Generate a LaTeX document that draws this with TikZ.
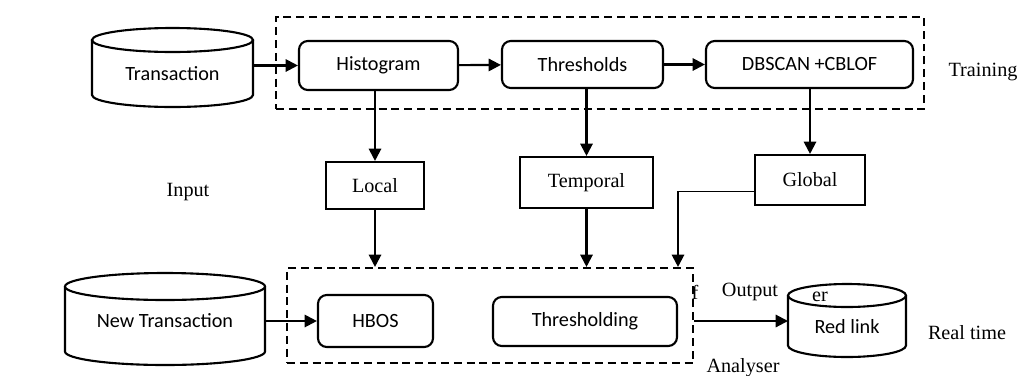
\documentclass[tikz,border=0pt]{standalone}
\usepackage{fontspec}
\setmainfont{Liberation Serif}
\newfontfamily\calfont{Carlito}
\usepackage{tikz}
\usetikzlibrary{arrows.meta}

\begin{document}
\begin{tikzpicture}[
font=\fontsize{11.5}{13}\selectfont,
proc/.style={rectangle, rounded corners=5pt, draw=black, line width=1.2pt, font=\calfont\fontsize{11.5}{13}\selectfont},
tag/.style={rectangle, draw=black, line width=1.2pt},
db/.style={rectangle, outer sep=0pt, font=\calfont\fontsize{11.5}{13}\selectfont},
group/.style={rectangle, draw=black, line width=1.2pt, dash pattern=on 4.5pt off 2.8pt},
arr/.style={-{Triangle[length=7pt,width=7pt]}, line width=1.2pt}
]
\useasboundingbox (0,0) rectangle (20.44,-7.5);
%Groups
\node[group, minimum width=12.96cm, minimum height=1.84cm] (train) at (12.00,-1.26) {};
\node[group, minimum width=8.12cm, minimum height=1.90cm]  (anlz)  at (9.80,-6.31)  {};
%Nodes
\node[db,   minimum width=3.22cm, minimum height=1.34cm] (trans) at (3.45,-1.47)   {Transaction};
\node[proc, minimum width=3.18cm, minimum height=0.98cm] (hist)  at (7.57,-1.31)   {Histogram};
\node[proc, minimum width=3.22cm, minimum height=0.94cm] (thr)   at (11.65,-1.29)  {Thresholds};
\node[proc, minimum width=4.14cm, minimum height=0.94cm] (dbs)   at (16.19,-1.29)  {DBSCAN +CBLOF};
\node[tag,  minimum width=1.96cm, minimum height=0.94cm] (local) at (7.50,-3.71)   {Local};
\node[tag,  minimum width=2.66cm, minimum height=1.02cm] (temp)  at (11.73,-3.65)  {Temporal};
\node[tag,  minimum width=2.20cm, minimum height=1.00cm] (glob)  at (16.20,-3.60)  {Global};
\node[db,   minimum width=4.00cm, minimum height=1.57cm] (newtr) at (3.30,-6.515)  {\raisebox{0.2cm}{New Transaction}};
\node[proc, minimum width=2.30cm, minimum height=1.04cm] (hbos)  at (7.51,-6.42)   {HBOS};
\node[proc, minimum width=3.68cm, minimum height=0.98cm] (thrg)  at (11.70,-6.43)  {Thresholding};
\node[db,   minimum width=2.36cm, minimum height=1.23cm] (red)   at (16.94,-6.525) {Red link};
%Cylinders
\foreach \n/\w/\r in {trans/1.61/0.24, newtr/2.00/0.27, red/1.18/0.23}{
  \draw[line width=1.2pt] (\n.north) ellipse [x radius=\w, y radius=\r];
  \draw[line width=1.2pt] (\n.north west) -- ([yshift=\r cm]\n.south west)
    arc [start angle=180, end angle=360, x radius=\w, y radius=\r] -- (\n.north east);
}
%Labels
\node (lin)   at (3.76,-3.84)  {Input};
\node (ltrn)  at (19.66,-1.44) {Training};
\node (lout)  at (15.00,-5.84) {Output};
\node (ler)   at (16.40,-5.94) {er};
\node (lf)    at (13.90,-5.84) {f};
\node (lreal) at (19.34,-6.66) {Real time};
\node[anchor=base] (lana) at (14.86,-7.44) {Analyser};
\coordinate (gb) at (13.56,-3.82);
%Lines
\draw[arr] (trans.east |- hist) -- (hist);
\draw[arr] (hist) -- (thr);
\draw[arr] (thr) -- (dbs);
\draw[arr] (hist.south -| local) -- (local);
\draw[arr] (thr.south -| temp) -- (temp);
\draw[arr] (dbs.south -| glob) -- (glob);
\draw[arr] (local) -- (local |- anlz.north);
\draw[arr] (temp) -- (temp |- anlz.north);
\draw[line width=0.5pt] (glob.west |- gb) -- (gb);
\draw[arr] (gb) -- (gb |- anlz.north);
\draw[arr] (newtr.east |- hbos) -- (hbos);
\draw[arr] (anlz.east |- hbos) -- (hbos -| red.west);
\end{tikzpicture}
\end{document}
